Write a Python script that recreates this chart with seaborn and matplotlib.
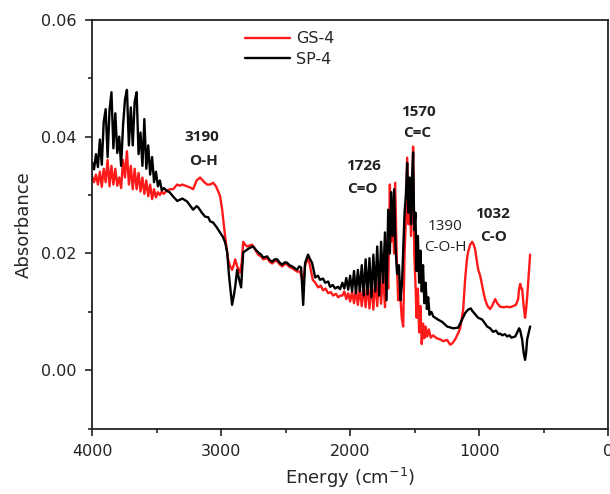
import matplotlib
matplotlib.use("Agg")
import matplotlib.pyplot as plt
import matplotlib.ticker as mticker
import pandas as pd
import seaborn as sns

# ── data (wavenumber in cm-1, absorbance) ────────────────────────────────
# SP-4 (black)
sp_wn = [
    4000, 3985, 3970, 3955, 3940, 3925, 3910, 3895, 3880, 3865, 3850, 3835, 3820,
    3805, 3790, 3775, 3760, 3745, 3730, 3715, 3700, 3685, 3670, 3655, 3640, 3625,
    3610, 3595, 3580, 3565, 3550, 3535, 3520, 3505, 3490, 3475, 3460, 3445,
    3420, 3400, 3370, 3340, 3300, 3264, 3240, 3217, 3190, 3178, 3150, 3124, 3100,
    3085, 3062, 3035, 3008, 2985, 2969, 2953, 2938, 2915, 2900, 2891, 2876, 2860,
    2845, 2829, 2814, 2790, 2775, 2752, 2730, 2713, 2690, 2674, 2643, 2625, 2605,
    2585, 2566, 2545, 2527, 2505, 2488, 2470, 2450, 2430, 2411, 2395, 2380, 2364,
    2349, 2326, 2310, 2295, 2271, 2250, 2233, 2210, 2194, 2170, 2155, 2135, 2116,
    2095, 2078,
    2060, 2045, 2030, 2015, 2000, 1985, 1970, 1955, 1940, 1925, 1910, 1895, 1880,
    1865, 1850, 1835, 1820, 1805, 1790, 1775, 1760, 1745, 1730, 1718, 1705, 1692,
    1682, 1670, 1659, 1648, 1636, 1622, 1610, 1598, 1588, 1578, 1568, 1558, 1548,
    1538, 1528, 1518, 1512, 1503, 1494, 1485, 1475, 1465, 1455, 1445, 1435, 1425,
    1415, 1405, 1395, 1385, 1370, 1355, 1340, 1320,
    1287, 1248, 1202, 1163, 1132, 1109, 1085, 1065, 1054, 1031, 1008, 977, 960,
    938, 915, 892, 870, 850, 838, 820, 800, 783, 765, 750, 736, 720, 705, 690,
    682, 667, 655, 644, 636, 628, 615, 605,
]
sp_abs = [
    .0356, .0344, .0370, .0348, .0395, .0352, .0425, .0447, .0365, .0445, .0476, .0380, .0440,
    .0372, .0400, .0350, .0420, .0464, .0480, .0385, .0450, .0385, .0460, .0476, .0370, .0407,
    .0350, .0430, .0345, .0385, .0335, .0365, .0322, .0340, .0315, .0325, .0308, .0312,
    .0307, .0305, .0297, .0290, .0294, .0289, .0282, .0275, .0281, .0279, .0270, .0263, .0262,
    .0255, .0253, .0245, .0236, .0228, .0219, .0202, .0160, .0112, .0130, .0143, .0172, .0155,
    .0142, .0202, .0204, .0208, .0210, .0212, .0206, .0202, .0198, .0193, .0195, .0189, .0186,
    .0190, .0190, .0184, .0181, .0185, .0184, .0180, .0178, .0175, .0172, .0178, .0176, .0112,
    .0184, .0198, .0190, .0184, .0159, .0162, .0155, .0157, .0150, .0152, .0143, .0146, .0140,
    .0143, .0139,
    .0150, .0140, .0158, .0138, .0162, .0135, .0170, .0132, .0172, .0135, .0180, .0128, .0190,
    .0130, .0192, .0125, .0198, .0135, .0212, .0128, .0220, .0150, .0236, .0120, .0275, .0200,
    .0305, .0230, .0310, .0210, .0165, .0180, .0120, .0150, .0210, .0270, .0300, .0355, .0270,
    .0330, .0250, .0340, .0373, .0240, .0270, .0170, .0230, .0150, .0205, .0135, .0180, .0115,
    .0150, .0105, .0125, .0095, .0100, .0092, .0090, .0087,
    .0083, .0075, .0072, .0073, .0087, .0098, .0104, .0106, .0102, .0096, .0090, .0087, .0082,
    .0075, .0072, .0066, .0068, .0062, .0063, .0060, .0062, .0058, .0060, .0056, .0057, .0058, .0065, .0072,
    .0068, .0053, .0030, .0018, .0030, .0053, .0065, .0075,
]

# GS-4 (red)
gs_wn = [
    4000, 3985, 3970, 3955, 3940, 3925, 3910, 3895, 3880, 3865, 3850, 3835, 3820,
    3805, 3790, 3775, 3760, 3745, 3730, 3715, 3700, 3685, 3670, 3655, 3640, 3625,
    3610, 3595, 3580, 3565, 3550, 3535, 3520, 3505, 3490, 3475, 3460, 3445,
    3420, 3395, 3372, 3341, 3320, 3302, 3264, 3240, 3217, 3190, 3163, 3130, 3109,
    3085, 3062, 3040, 3020, 3008, 2992, 2969, 2946, 2930, 2915, 2900, 2891, 2876,
    2853, 2840, 2829, 2814, 2798, 2775, 2760, 2740, 2713, 2690, 2674, 2643, 2625,
    2605, 2585, 2566, 2545, 2527, 2505, 2488, 2470, 2450, 2430, 2411, 2388, 2364,
    2349, 2326, 2310, 2290, 2270, 2248, 2228, 2210, 2190, 2171, 2150, 2132, 2110,
    2093, 2075,
    2060, 2045, 2030, 2015, 2000, 1985, 1970, 1955, 1940, 1925, 1910, 1895, 1880,
    1865, 1850, 1835, 1820, 1805, 1790, 1775, 1760, 1745, 1730, 1718, 1705, 1692,
    1682, 1670, 1659, 1651, 1640, 1628, 1615, 1600, 1589, 1578, 1568, 1558, 1548,
    1538, 1528, 1518, 1512, 1503, 1494, 1485, 1475, 1465, 1455, 1445, 1435, 1425,
    1415, 1403, 1390, 1375, 1357, 1330, 1302, 1280, 1248, 1225, 1209, 1186, 1160,
    1147, 1124, 1109, 1095, 1085, 1070, 1054, 1042, 1031, 1020, 1008, 990, 977,
    965, 953, 935, 915, 900, 876, 860, 838, 810, 783, 760, 736, 715, 698, 690,
    682, 674, 667, 655, 644, 636, 628, 615, 605,
]
gs_abs = [
    .0332, .0322, .0335, .0318, .0340, .0314, .0345, .0322, .0360, .0315, .0350, .0318, .0345,
    .0316, .0330, .0312, .0360, .0330, .0375, .0318, .0350, .0310, .0345, .0310, .0338, .0306,
    .0330, .0302, .0325, .0298, .0318, .0293, .0310, .0296, .0305, .0300, .0306, .0302,
    .0308, .0310, .0310, .0318, .0316, .0318, .0315, .0313, .0310, .0325, .0330, .0322, .0318,
    .0318, .0321, .0315, .0305, .0298, .0275, .0229, .0190, .0178, .0172, .0182, .0190, .0178,
    .0167, .0185, .0220, .0215, .0212, .0214, .0215, .0208, .0198, .0195, .0190, .0192, .0186,
    .0183, .0187, .0187, .0181, .0178, .0182, .0181, .0177, .0175, .0172, .0169, .0169, .0150,
    .0180, .0193, .0178, .0155, .0150, .0142, .0145, .0137, .0140, .0132, .0134, .0128, .0131,
    .0125, .0128,
    .0128, .0135, .0122, .0132, .0118, .0135, .0115, .0138, .0112, .0140, .0110, .0145, .0108,
    .0150, .0106, .0152, .0104, .0158, .0110, .0165, .0114, .0170, .0108, .0190, .0140, .0318,
    .0220, .0260, .0200, .0321, .0200, .0120, .0140, .0090, .0075, .0200, .0260, .0364, .0250,
    .0298, .0230, .0300, .0383, .0200, .0150, .0090, .0140, .0065, .0110, .0045, .0080, .0055,
    .0075, .0058, .0070, .0056, .0060, .0055, .0053, .0050, .0052, .0044, .0046, .0053, .0065,
    .0072, .0104, .0155, .0190, .0203, .0215, .0220, .0215, .0207, .0190, .0173, .0160, .0145,
    .0132, .0121, .0110, .0105, .0110, .0122, .0115, .0109, .0108, .0109, .0108, .0110, .0112, .0122, .0140,
    .0148, .0140, .0140, .0110, .0090, .0105, .0125, .0165, .0198,
]

# peak labels: (text, wavenumber, absorbance, bold)
peak_labels = [
    ("3190", 3147, 0.0399, True), ("O-H", 3140, 0.0358, True),
    ("1570", 1473, 0.0443, True), ("C=C", 1480, 0.0407, True),
    ("1726", 1899, 0.0349, True), ("C=O", 1905, 0.0310, True),
    ("1390", 1264, 0.0247, False), ("C-O-H", 1264, 0.0210, False),
    ("1032", 899, 0.0267, True), ("C-O", 892, 0.0228, True),
]

assert len(sp_wn) == len(sp_abs) and len(gs_wn) == len(gs_abs)

df = pd.concat([
    pd.DataFrame({"wn": gs_wn, "abs": gs_abs, "sample": "GS-4"}),
    pd.DataFrame({"wn": sp_wn, "abs": sp_abs, "sample": "SP-4"}),
])

sns.set_style("ticks")
plt.rcParams["font.family"] = ["DejaVu Sans"]

fig = plt.figure(figsize=(6.1, 4.94), dpi=100)
ax = fig.add_axes([0.151, 0.132, 0.846, 0.828])

sns.lineplot(data=df, x="wn", y="abs", hue="sample",
             palette={"GS-4": "#ff1a1a", "SP-4": "black"},
             estimator=None, sort=False, linewidth=1.7, ax=ax)

for txt, x, y, bold in peak_labels:
    ax.text(x, y, txt, ha="center", va="center", fontsize=11,
            family=["Open Sans", "DejaVu Sans"],
            fontweight="bold" if bold else "normal", color="#222222")

ax.set_xlim(4000, 0)
ax.set_ylim(-0.01, 0.06)
ax.xaxis.set_major_locator(mticker.MultipleLocator(1000))
ax.xaxis.set_minor_locator(mticker.MultipleLocator(500))
ax.yaxis.set_major_locator(mticker.MultipleLocator(0.02))
ax.yaxis.set_minor_locator(mticker.MultipleLocator(0.01))
ax.yaxis.set_major_formatter(mticker.FormatStrFormatter("%.2f"))
ax.tick_params(which="major", direction="out", length=5, width=1.2, pad=6,
               labelsize=11.5, colors="#222222")
ax.tick_params(which="minor", direction="out", length=3, width=1.2)
for sp in ax.spines.values():
    sp.set_linewidth(1.3)
    sp.set_color("#222222")

ax.set_xlabel("Energy (cm$^{-1}$)", fontsize=13, labelpad=5)
ax.set_ylabel("Absorbance", fontsize=13, labelpad=6)

ax.legend(loc="upper left", bbox_to_anchor=(0.2965, 0.972), frameon=False,
          fontsize=11.5, handlelength=2.8, handletextpad=0.4, labelspacing=0.35,
          borderpad=0, borderaxespad=0, title=None)

fig.savefig("out.png", dpi=100)
